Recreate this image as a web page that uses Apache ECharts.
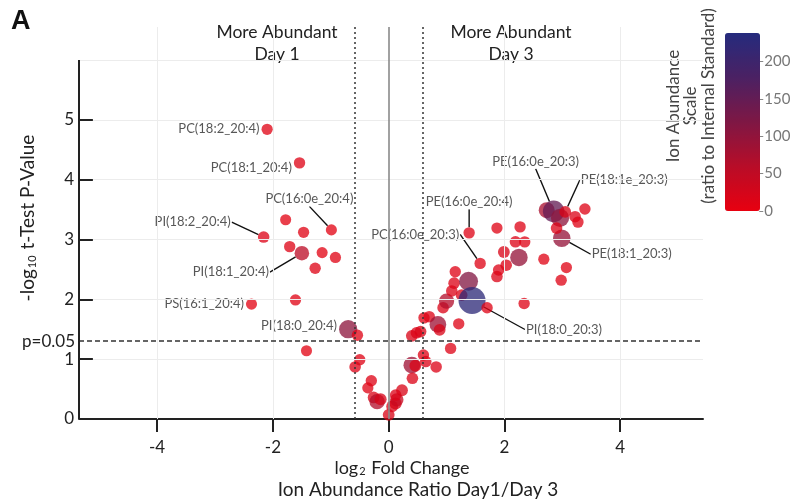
<!DOCTYPE html>
<html><head><meta charset="utf-8">
<script src="https://cdn.jsdelivr.net/npm/echarts@6/dist/echarts.min.js"></script>
<style>html,body{margin:0;padding:0;background:#fff}#c{width:792px;height:502px}</style>
</head><body><div id="c"></div>
<script>
// ---- data ----
const logFC = [-2.10,-1.54,-0.99,-2.16,-1.78,-1.47,-1.71,-1.50,-1.15,-0.92,-1.27,-2.37,-1.61,-0.70,-0.54,-1.42,-0.50,-0.58,-0.30,-0.36,-0.26,-0.20,-0.14,0.00,
  0.06,0.12,0.14,0.23,0.12,0.40,0.46,0.41,0.60,0.64,0.82,1.07,0.40,0.48,0.55,0.61,0.70,0.85,0.88,1.21,0.94,1.00,1.09,1.15,1.13,1.26,1.38,1.44,1.70,1.58,1.87,1.90,2.03,1.99,2.25,2.19,2.35,2.68,2.99,3.07,2.98,2.34,1.39,1.87,2.27,2.73,2.85,2.96,3.05,3.22,3.27,3.39,2.90];
const negLogP = [4.84,4.28,3.16,3.04,3.33,3.12,2.88,2.77,2.78,2.70,2.52,1.92,1.99,1.50,1.40,1.14,0.99,0.87,0.64,0.52,0.36,0.29,0.33,0.07,
  0.21,0.26,0.32,0.48,0.40,0.90,0.89,0.68,1.07,0.96,0.87,1.18,1.39,1.44,1.46,1.69,1.71,1.58,1.49,1.59,1.86,1.97,2.14,2.46,2.27,2.07,2.30,1.98,1.86,2.60,2.38,2.49,2.57,2.79,2.70,2.96,2.96,2.67,3.02,2.53,2.32,1.93,3.11,3.19,3.21,3.49,3.47,3.36,3.46,3.38,3.29,3.51,3.19];
const abundance = [10,12,8,14,8,10,12,55,8,10,12,8,10,105,12,8,12,15,12,10,18,65,22,18,
  18,22,40,18,15,85,18,15,12,15,14,12,18,15,18,12,14,85,18,12,15,65,15,12,15,18,115,225,12,12,15,14,15,18,95,14,12,10,95,10,12,12,12,10,12,75,150,105,18,15,12,12,15];
const lipid = ['PC(18:2_20:4)','PC(18:1_20:4)','PC(16:0e_20:4)','PI(18:2_20:4)','','','','PI(18:1_20:4)','','','','PS(16:1_20:4)','','PI(18:0_20:4)','','','','','','','','','','',
  '','','','','','','','','','','','','','','','','','','','','','','','','','','','PI(18:0_20:3)','','PC(16:0e_20:3)','','','','','','','','','PE(18:1_20:3)','','','','PE(16:0e_20:4)','','','','PE(16:0e_20:3)','','PE(18:1e_20:3)','','','',''];
const xTicks = [-4,-2,0,2,4];
const yTicks = [0,1,2,3,4,5];
const yGrid = [1,2,3,4,5,6];
const colorTicks = [0,50,100,150,200];
const foldCut = 0.585;     // log2(1.5)
const pCut = 1.301;        // -log10(0.05)
const xMin = -5.35, xMax = 5.43, yMax = 6.55, yAxisTop = 6;
const abMax = 238;

// ---- layout-only settings ----
const yTickLen = 0.24;   // inward y tick length, in x-axis units (~14px)
const leftLabels = {'PC(18:2_20:4)':-1,'PC(18:1_20:4)':5,'PS(16:1_20:4)':0,'PI(18:0_20:4)':-3};
const leaderOffsets = {
  'PC(16:0e_20:4)':[-22,-31],'PI(18:2_20:4)':[-71,-15],'PI(18:1_20:4)':[-71,19],
  'PE(16:0e_20:4)':[0,-31],'PC(16:0e_20:3)':[-65,-29],'PE(16:0e_20:3)':[-18,-50],
  'PE(18:1e_20:3)':[59,-32],'PE(18:1_20:3)':[70,16],'PI(18:0_20:3)':[92,29]
};

const FONT = 'Lato';
const data = logFC.map((x,i)=>{
  const n = lipid[i];
  const item = {name:n, value:[x, negLogP[i], abundance[i]]};
  if (n) {
    if (leftLabels[n] !== undefined) {
      item.label = {show:true, position:'left', distance:1};
    } else {
      item.label = {show:true, position:'inside'};
      item.labelLine = {show:true};
    }
  }
  return item;
});

const ink = '#222';
const axisStyle = {color:ink, width:2, type:'solid'};
const chart = echarts.init(document.getElementById('c'), null, {renderer:'canvas'});
chart.setOption({
  animation:false,
  backgroundColor:'#fff',
  grid:[
    {left:79, right:89, top:27, bottom:83},
    {left:759, width:1, top:33, height:178}
  ],
  xAxis:[
    {type:'value', min:xMin, max:xMax, gridIndex:0,
     axisLine:{show:true, onZero:false, lineStyle:{color:ink, width:2}},
     axisTick:{show:true, customValues:xTicks, length:13, lineStyle:{color:ink, width:2}},
     axisLabel:{customValues:xTicks, color:ink, fontSize:17, fontFamily:FONT, margin:20},
     splitLine:{show:false}},
    {type:'value', gridIndex:1, show:false, min:0, max:1}
  ],
  yAxis:[
    {type:'value', min:0, max:yMax, gridIndex:0, position:'left',
     axisLine:{show:false, onZero:false},
     axisTick:{show:false},
     axisLabel:{customValues:yTicks, color:ink, fontSize:17, fontFamily:FONT, margin:5},
     splitLine:{show:false}},
    {type:'value', gridIndex:1, min:0, max:abMax, position:'right',
     axisLine:{show:false, onZero:false},
     axisTick:{show:true, customValues:colorTicks, length:4, lineStyle:{color:'#888'}},
     axisLabel:{customValues:colorTicks, color:'#777', fontSize:15, fontFamily:FONT, margin:5},
     splitLine:{show:false}}
  ],
  visualMap:[
    {type:'continuous', seriesIndex:1, dimension:2, min:0, max:abMax,
     left:725, top:33, itemWidth:35, itemHeight:178, padding:0, calculable:false, text:null,
     showLabel:false,
     inRange:{color:['#e80010','#b80d28','#7e1744','#4b2163','#252b7d']}},
    {type:'continuous', seriesIndex:1, dimension:2, min:0, max:abMax, show:false,
     inRange:{symbolSize:[10.5,28]}}
  ],
  series:[
    {type:'scatter', xAxisIndex:0, yAxisIndex:0, data:[], silent:true, z:1,
     markLine:{silent:true, symbol:['none','none'], animation:false,
       data:[
         ...xTicks.filter(v=>v!==0).map(v=>({xAxis:v, lineStyle:{color:'#ececec', width:1, type:'solid'}, label:{show:false}})),
         ...yGrid.map(v=>({yAxis:v, lineStyle:{color:'#ececec', width:1, type:'solid'}, label:{show:false}})),
         {xAxis:0, lineStyle:{color:'#8a8a8a', width:1.6, type:'solid'}, label:{show:false}},
         {xAxis:-foldCut, lineStyle:{color:'#333', width:1.5, type:[2,3]}, label:{show:false}},
         {xAxis:foldCut, lineStyle:{color:'#333', width:1.5, type:[2,3]}, label:{show:false}},
         {yAxis:pCut, lineStyle:{color:'#333', width:1.5, type:[5,3]},
          label:{show:true, position:'start', formatter:'p=0.05', color:ink, fontSize:17, fontFamily:FONT, distance:4}},
         [{coord:[xMin,0], lineStyle:axisStyle, label:{show:false}}, {coord:[xMin,yAxisTop]}],
         ...yTicks.filter(v=>v>0).map(v=>[{coord:[xMin,v], lineStyle:axisStyle, label:{show:false}}, {coord:[xMin+yTickLen,v]}])
       ]}},
    {type:'scatter', xAxisIndex:0, yAxisIndex:0, z:3, data:data,
     itemStyle:{opacity:0.76},
     emphasis:{disabled:true},
     label:{show:false, color:ink, fontSize:13, fontFamily:FONT, formatter:'{b}', backgroundColor:'#fff', padding:[1,1,1,1]},
     labelLine:{show:false, lineStyle:{color:'#111', width:1.4}},
     labelLayout:function(p){
       const n = lipid[p.dataIndex];
       if (leftLabels[n] !== undefined) return {dy:leftLabels[n]};
       const o = leaderOffsets[n];
       return o ? {dx:o[0], dy:o[1]} : {};
     }}
  ],
  graphic:[
    {type:'text', left:11, top:8, style:{text:'A', font:'bold 27px "Liberation Sans"', fill:'#111'}},
    {type:'text', x:277, y:43, style:{text:'More Abundant\nDay 1', font:'17.5px '+FONT, fill:ink, align:'center', verticalAlign:'middle', lineHeight:22}},
    {type:'text', x:511, y:43, style:{text:'More Abundant\nDay 3', font:'17.5px '+FONT, fill:ink, align:'center', verticalAlign:'middle', lineHeight:22}},
    {type:'text', x:28, y:218, rotation:Math.PI/2,
     style:{text:'-log{s|10} t-Test P-Value', font:'19px '+FONT, fill:ink, align:'center', verticalAlign:'middle',
            rich:{s:{fontSize:11, fontFamily:FONT, fill:ink, verticalAlign:'bottom', padding:[0,1,0,1]}}}},
    {type:'text', x:402, y:468,
     style:{text:'log{s|2} Fold Change', font:'18px '+FONT, fill:ink, align:'center', verticalAlign:'middle',
            rich:{s:{fontSize:11, fontFamily:FONT, fill:ink, verticalAlign:'bottom', padding:[0,1,0,1]}}}},
    {type:'text', x:418, y:490, style:{text:'Ion Abundance Ratio Day1/Day 3', font:'19px '+FONT, fill:ink, align:'center', verticalAlign:'middle'}},
    {type:'text', x:691, y:106, rotation:Math.PI/2,
     style:{text:'Ion Abundance\nScale\n(ratio to Internal Standard)', font:'17px '+FONT, fill:'#444', align:'center', verticalAlign:'middle', lineHeight:17.5}}
  ]
});
</script>
</body></html>
